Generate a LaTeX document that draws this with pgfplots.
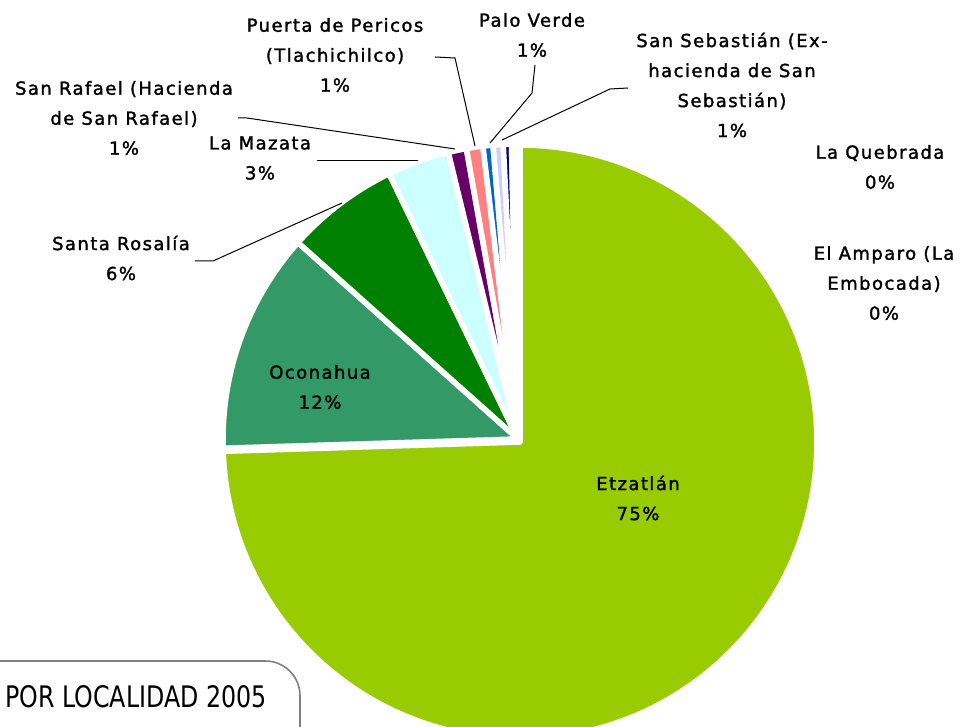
\documentclass[border=0pt]{standalone}
\usepackage{pgfplots}
\pgfplotsset{compat=1.18}
\usepackage{fontspec}
\setmainfont{DejaVu Sans}
\newfontfamily\lab[LetterSpace=8,FakeBold=1.6]{DejaVu Sans}
\definecolor{cEtz}{HTML}{99CC00}
\definecolor{cOco}{HTML}{339966}
\definecolor{cSRo}{HTML}{008000}
\definecolor{cMaz}{HTML}{CCFFFF}
\definecolor{cSRa}{HTML}{660066}
\definecolor{cPue}{HTML}{FF8080}
\definecolor{cPal}{HTML}{0066CC}
\definecolor{cSSe}{HTML}{CCCCFF}
\definecolor{cQue}{HTML}{000080}
\definecolor{cAmp}{HTML}{FFFFCC}
% slice values (percent)
\def\vEtz{74.5}\def\vOco{12.1}\def\vSRo{6.2}\def\vMaz{3.4}\def\vSRa{1.0}
\def\vPue{0.9}\def\vPal{0.55}\def\vSSe{0.55}\def\vQue{0.45}\def\vAmp{0.35}
\pgfmathsetmacro\aO{90}
\pgfmathsetmacro\aA{\aO-3.6*\vEtz}
\pgfmathsetmacro\aB{\aA-3.6*\vOco}
\pgfmathsetmacro\aC{\aB-3.6*\vSRo}
\pgfmathsetmacro\aD{\aC-3.6*\vMaz}
\pgfmathsetmacro\aE{\aD-3.6*\vSRa}
\pgfmathsetmacro\aF{\aE-3.6*\vPue}
\pgfmathsetmacro\aG{\aF-3.6*\vPal}
\pgfmathsetmacro\aH{\aG-3.6*\vSSe}
\pgfmathsetmacro\aI{\aH-3.6*\vQue}
\pgfmathsetmacro\aJ{\aI-3.6*\vAmp}
\tikzset{lbl/.style={align=center,inner sep=0pt,font={\lab\fontsize{13.5}{22.5}\selectfont}}}
\begin{document}
\begin{tikzpicture}
\useasboundingbox (0,0) rectangle (722.25pt,545.25pt);
\clip (0,0) rectangle (722.25pt,545.25pt);
\begin{axis}[at={(0,0)},anchor=south west,scale only axis,width=722.25pt,height=545.25pt,
  xmin=-518,xmax=445,ymin=-288,ymax=439,hide axis,
  every axis plot/.append style={data cs=polar,draw=white,line width=4.2pt,line join=round}]
\addplot[fill=cEtz,domain=\aA:\aO,samples=160,xshift=1.5pt,yshift=-2.25pt] ({x},{297}) -- (axis cs:0,0) -- cycle;
\addplot[fill=cOco,domain=\aB:\aA,samples=40] ({x},{295}) -- (axis cs:0,0) -- cycle;
\addplot[fill=cSRo,domain=\aC:\aB,samples=30] ({x},{295}) -- (axis cs:0,0) -- cycle;
\addplot[fill=cMaz,domain=\aD:\aC,samples=20] ({x},{295}) -- (axis cs:0,0) -- cycle;
\addplot[fill=cSRa,domain=\aE:\aD,samples=8] ({x},{295}) -- (axis cs:0,0) -- cycle;
\addplot[fill=cPue,domain=\aF:\aE,samples=8] ({x},{295}) -- (axis cs:0,0) -- cycle;
\addplot[fill=cPal,domain=\aG:\aF,samples=6] ({x},{295}) -- (axis cs:0,0) -- cycle;
\addplot[fill=cSSe,domain=\aH:\aG,samples=6] ({x},{295}) -- (axis cs:0,0) -- cycle;
\addplot[fill=cQue,domain=\aI:\aH,samples=6] ({x},{295}) -- (axis cs:0,0) -- cycle;
\addplot[fill=cAmp,domain=\aJ:\aI,samples=6] ({x},{295}) -- (axis cs:0,0) -- cycle;
% leader lines
\addplot[data cs=cart,draw=black,line width=0.75pt,line join=miter] coordinates {(-83,382) (-63,381) (-43,293)};
\addplot[data cs=cart,draw=black,line width=0.75pt] coordinates {(-280,321) (-271,321) (-63,290)};
\addplot[data cs=cart,draw=black,line width=0.75pt] coordinates {(-201,278) (-100,278)};
\addplot[data cs=cart,draw=black,line width=0.75pt] coordinates {(-323,178) (-305,178) (-176,236)};
\addplot[data cs=cart,draw=black,line width=0.75pt] coordinates {(17,374) (14,346) (-28,296)};
\addplot[data cs=cart,draw=black,line width=0.75pt] coordinates {(110,351) (92,350) (-16,299)};
% labels
\node[lbl] at (axis cs:-183,384) {Puerta de Pericos\\(Tlachichilco)\\1\%};
\node[lbl] at (axis cs:14,404) {Palo Verde\\1\%};
\node[lbl] at (axis cs:214,354) {San Sebastián (Ex-\\hacienda de San\\Sebastián)\\1\%};
\node[lbl] at (axis cs:362,272) {La Quebrada\\0\%};
\node[lbl] at (axis cs:366,156) {El Amparo (La\\Embocada)\\0\%};
\node[lbl] at (axis cs:-394,321) {San Rafael (Hacienda\\de San Rafael)\\1\%};
\node[lbl] at (axis cs:-258,281) {La Mazata\\3\%};
\node[lbl] at (axis cs:-397,181) {Santa Rosalía\\6\%};
\node[lbl] at (axis cs:-198,52) {Oconahua\\12\%};
\node[lbl] at (axis cs:120,-59) {Etzatlán\\75\%};
% title box
\draw[draw=gray,line width=1.2pt,rounded corners=26pt,fill=white] (axis cs:-560,-222) rectangle (axis cs:-218,-330);
\node[inner sep=0pt,font={\fontsize{17.8}{20}\selectfont},yscale=1.25] at (axis cs:-382,-258) {POR LOCALIDAD 2005};
\end{axis}
\end{tikzpicture}
\end{document}
